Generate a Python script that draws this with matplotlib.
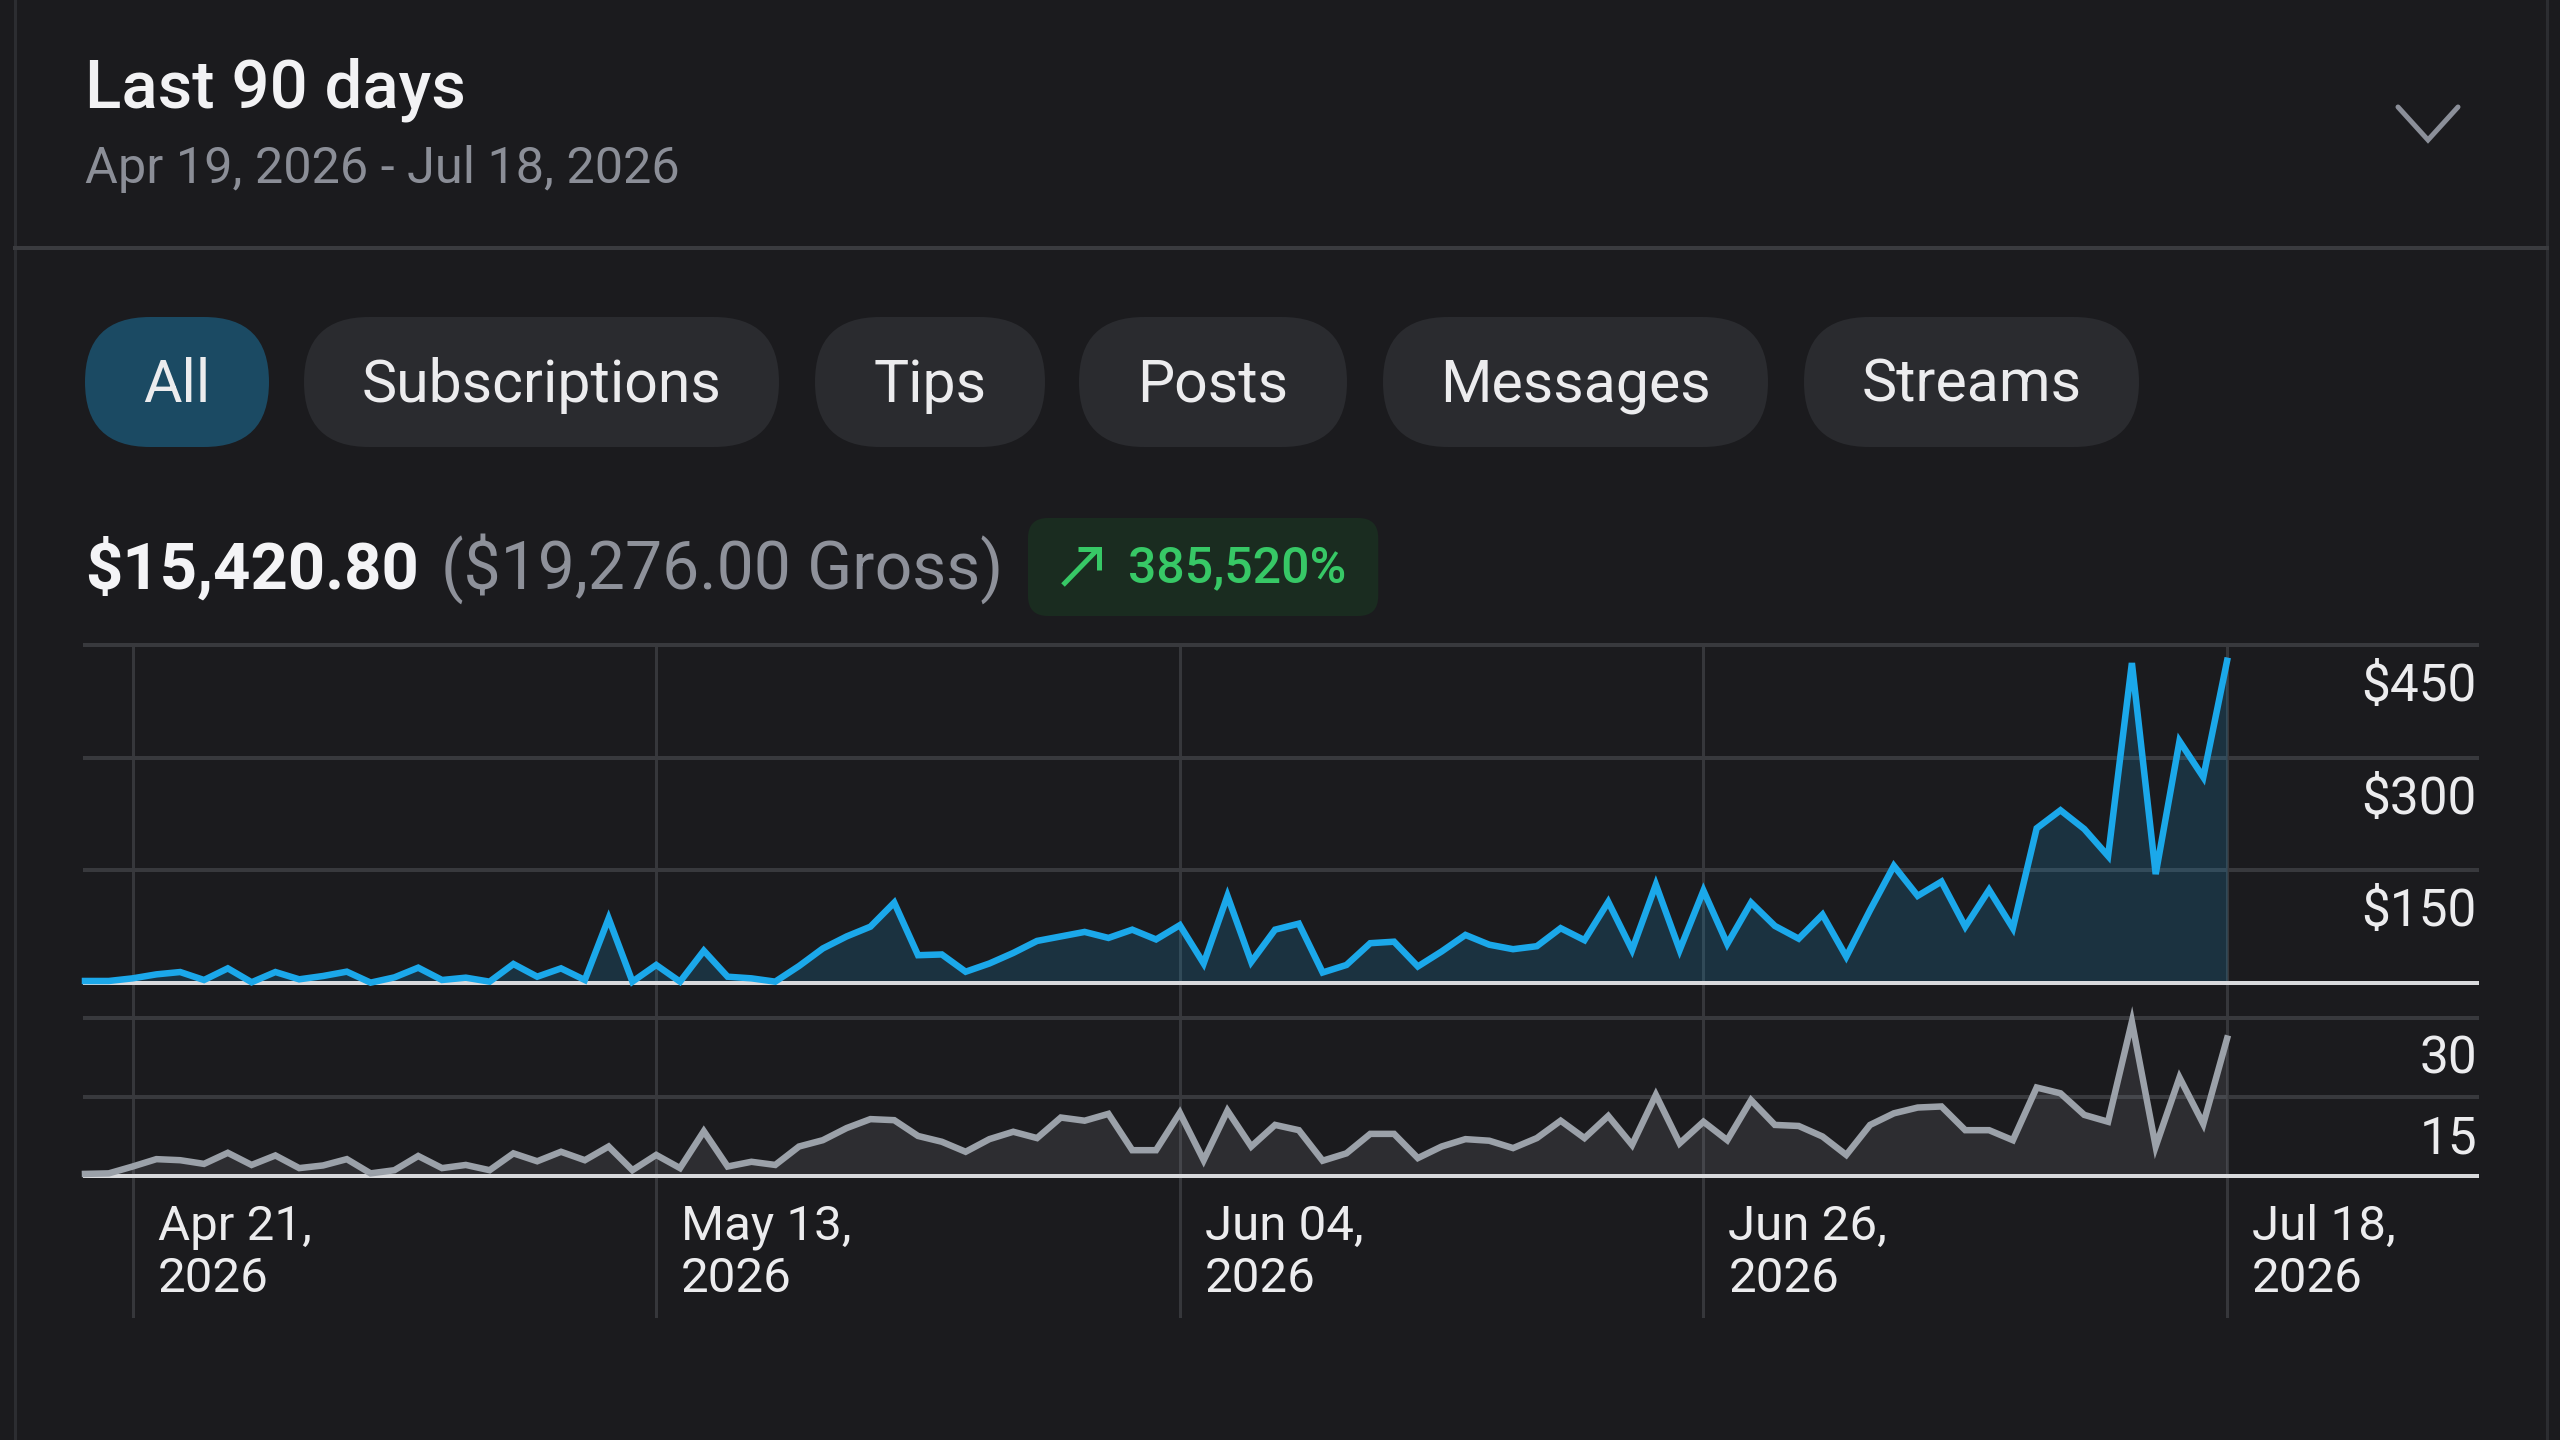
import matplotlib
matplotlib.use("Agg")
import matplotlib.pyplot as plt
from matplotlib.patches import FancyBboxPatch
import numpy as np

# ---------------- data ----------------
title = "Last 90 days"
date_range = "Apr 19, 2026 - Jul 18, 2026"
tabs = ["All", "Subscriptions", "Tips", "Posts", "Messages", "Streams"]
net_total = "$15,420.80"
gross_total = "($19,276.00 Gross)"
change_pct = "385,520%"

# daily earnings (USD), Apr 19 .. Jul 18 2026 (91 days)
earnings = [2.7, 2.7, 6.2, 11.5, 14.6, 4, 19.5, 1, 14.6, 4.9,
            9.3, 15.1, 0.5, 7.5, 20.4, 4, 7.1, 1.8, 25.3, 8.4,
            19.5, 4, 86, 1.8, 24, 1.8, 43, 8.4, 6.2, 1.8,
            22.6, 46, 62, 75, 107, 37, 38, 15, 26, 40,
            56, 62, 68, 60, 71, 58, 77, 26, 116, 28,
            71, 79, 14, 24, 53, 55, 22, 42, 64, 51,
            45, 49, 73, 57, 108, 44, 131, 44, 123, 52,
            107, 76, 59, 91, 35, 97, 156, 116, 135, 75,
            124, 73, 206, 230, 205, 169, 426, 145, 322, 274,
            429]

# daily count series (lower panel)
counts = [0.4, 0.5, 1.8, 3.2, 3.0, 2.3, 4.4, 2.1, 3.9, 1.5,
          2.0, 3.2, 0.5, 1.1, 3.8, 1.5, 2.1, 1.1, 4.3, 2.8,
          4.6, 3.0, 5.6, 1.1, 4.0, 1.5, 8.5, 1.8, 2.7, 2.1,
          5.6, 6.8, 9.1, 10.8, 10.6, 7.6, 6.5, 4.6, 7.0, 8.4,
          7.2, 11.1, 10.5, 11.8, 4.9, 4.9, 12.0, 3.0, 12.4, 5.6,
          9.7, 8.7, 2.9, 4.3, 8.0, 8.0, 3.4, 5.6, 7.0, 6.7,
          5.3, 7.2, 10.5, 7.2, 11.4, 5.9, 15.4, 6.2, 10.3, 6.8,
          14.4, 9.7, 9.5, 7.5, 4.0, 9.7, 11.9, 13.0, 13.2, 8.7,
          8.7, 6.8, 16.8, 15.7, 11.6, 10.3, 29.3, 5.6, 18.7, 9.9,
          26.1]

x_tick_idx = [2, 24, 46, 68, 90]
x_tick_line1 = ["Apr 21,", "May 13,", "Jun 04,", "Jun 26,", "Jul 18,"]
x_tick_line2 = ["2026", "2026", "2026", "2026", "2026"]
top_ticks = [150, 300, 450]
top_tick_labels = ["$150", "$300", "$450"]
bot_ticks = [15, 30]
bot_tick_labels = ["15", "30"]

# ---------------- style ----------------
plt.rcParams["font.family"] = ["Roboto", "DejaVu Sans"]
BG = "#1b1b1e"
GRID = "#38393d"
BASE = "#d9dadd"
TXT = "#ececee"
SUB = "#8b8e97"
BLUE = "#1ba8ea"
GRAY = "#9ba1a9"
GREEN = "#37c866"
PT = 0.72  # points per pixel at dpi 100

W, H = 2560, 1440
fig = plt.figure(figsize=(W / 100, H / 100), dpi=100, facecolor=BG)

ov = fig.add_axes([0, 0, 1, 1])
ov.set_xlim(0, W)
ov.set_ylim(H, 0)
ov.axis("off")


def ax_px(l, t, r, b):
    a = fig.add_axes([l / W, 1 - b / H, (r - l) / W, (b - t) / H])
    a.set_facecolor("none")
    a.axis("off")
    return a


# card borders
ov.plot([15, 15], [0, H], color="#2c2d31", lw=3 * PT)
ov.plot([2547, 2547], [0, H], color="#2c2d31", lw=3 * PT)
ov.plot([15, 2547], [248, 248], color="#3a3b3f", lw=4 * PT)

# header
ov.text(85, 107, title, fontsize=48.3, fontweight="medium", color="#f2f2f4", va="baseline")
ov.text(85, 183, date_range, fontsize=36.3, color=SUB, va="baseline")
ov.plot([2398, 2428, 2458], [107, 140, 107], color="#8b8f99", lw=5 * PT,
        solid_capstyle="round", solid_joinstyle="miter")

# tabs
tab_x = [(85, 269), (304, 779), (815, 1045), (1079, 1347), (1383, 1768), (1804, 2139)]
for i, (lbl, (x0, x1)) in enumerate(zip(tabs, tab_x)):
    fc = "#1b4a63" if i == 0 else "#2a2b2f"
    ov.add_patch(FancyBboxPatch((x0, 317), x1 - x0, 130,
                                boxstyle="round,pad=0,rounding_size=65",
                                fc=fc, ec="none"))
    ov.text((x0 + x1) / 2, 402, lbl, ha="center", va="baseline",
            fontsize=42.5, color=TXT)

# totals line
fig.canvas.draw()
r = fig.canvas.get_renderer()
inv = ov.transData.inverted()
t1 = ov.text(85, 589, net_total, fontsize=47, fontweight="bold", color="#f4f4f6", va="baseline")
bb = t1.get_window_extent(r)
x_end = inv.transform((bb.x1, bb.y0))[0]
t2 = ov.text(x_end + 22, 589, gross_total, fontsize=47.5, color="#8e919a", va="baseline")
bb = t2.get_window_extent(r)
x_end = inv.transform((bb.x1, bb.y0))[0]
bx0 = x_end + 25
t3 = ov.text(bx0 + 100, 582, change_pct, fontsize=36, fontweight="medium",
             color=GREEN, va="baseline")
bb = t3.get_window_extent(r)
t_end = inv.transform((bb.x1, bb.y0))[0]
ov.add_patch(FancyBboxPatch((bx0, 518), t_end + 32 - bx0, 98,
                            boxstyle="round,pad=0,rounding_size=20",
                            fc="#1a2c20", ec="none", zorder=0.5))
ax0 = bx0 + 35
ov.plot([ax0, ax0 + 35], [585, 549], color=GREEN, lw=5 * PT, solid_capstyle="butt")
ov.plot([ax0 + 15, ax0 + 36, ax0 + 36], [549, 549, 570], color=GREEN, lw=5 * PT,
        solid_joinstyle="miter", solid_capstyle="butt")

# ---------------- charts ----------------
x = np.arange(len(earnings))
XMAX = 100.5
L, R = 85, 2477

bg = ax_px(L, 645, R, 1318)
bg.set_xlim(0, XMAX)
bg.set_ylim(1318, 645)
for idx, l1, l2 in zip(x_tick_idx, x_tick_line1, x_tick_line2):
    bg.axvline(idx, color="#36373b", lw=3 * PT, zorder=1)
    bg.annotate(l1, xy=(idx, 1240), xytext=(25 * PT, 0), textcoords="offset points",
                ha="left", va="baseline", fontsize=35.5, color=TXT)
    bg.annotate(l2, xy=(idx, 1292), xytext=(25 * PT, 0), textcoords="offset points",
                ha="left", va="baseline", fontsize=35.5, color=TXT)

top = ax_px(L, 645, R, 983)
top.set_xlim(0, XMAX)
top.set_ylim(0, 450)
for v, lbl in zip(top_ticks, top_tick_labels):
    top.axhline(v, color=GRID, lw=4 * PT, zorder=1, clip_on=False)
    top.annotate(lbl, xy=(1, v), xycoords=("axes fraction", "data"),
                 xytext=(0, -56 * PT), textcoords="offset points",
                 ha="right", va="baseline", fontsize=37, color=TXT)
top.fill_between(x, earnings, 0, color=BLUE, alpha=0.17, lw=0, zorder=2)
top.axhline(0, color=BASE, lw=4 * PT, zorder=3, clip_on=False)
top.plot(x, earnings, color=BLUE, lw=6.5 * PT, zorder=4, clip_on=False,
         solid_joinstyle="miter")

bot = ax_px(L, 1018, R, 1176)
bot.set_xlim(0, XMAX)
bot.set_ylim(0, 30)
for v, lbl in zip(bot_ticks, bot_tick_labels):
    bot.axhline(v, color=GRID, lw=4 * PT, zorder=1, clip_on=False)
    bot.annotate(lbl, xy=(1, v), xycoords=("axes fraction", "data"),
                 xytext=(0, -56 * PT), textcoords="offset points",
                 ha="right", va="baseline", fontsize=37, color=TXT)
bot.fill_between(x, counts, 0, color=GRAY, alpha=0.14, lw=0, zorder=2)
bot.axhline(0, color=BASE, lw=4 * PT, zorder=3, clip_on=False)
bot.plot(x, counts, color=GRAY, lw=6.5 * PT, zorder=4, clip_on=False,
         solid_joinstyle="miter")

fig.savefig("out.png", dpi=100, facecolor=BG)
